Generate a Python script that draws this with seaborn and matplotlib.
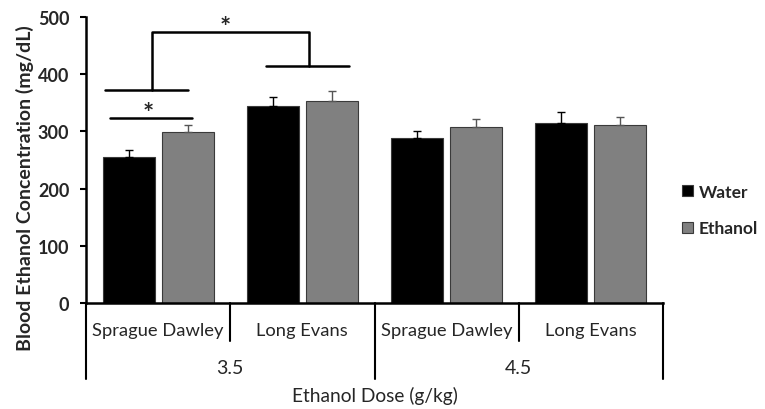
import numpy as np
import pandas as pd
import matplotlib
matplotlib.use("Agg")
import matplotlib.pyplot as plt
import matplotlib.transforms as mtransforms
from matplotlib.patches import Patch
import seaborn as sns

# ---- data ----
strains = ["Sprague Dawley", "Long Evans", "Sprague Dawley", "Long Evans"]
doses = ["3.5", "4.5"]
group_keys = ["SD 3.5", "LE 3.5", "SD 4.5", "LE 4.5"]
conditions = ["Water", "Ethanol"]
water_mean = [256, 344, 288, 315]
ethanol_mean = [299, 354, 307, 311]
water_sem = [12, 17, 13, 19]
ethanol_sem = [12, 16, 15, 15]
y_ticks = [0, 100, 200, 300, 400, 500]

sns.set_theme(style="white")
plt.rcParams["font.family"] = ["Lato", "DejaVu Sans"]

df = pd.DataFrame({
    "group": group_keys * 2,
    "condition": ["Water"] * 4 + ["Ethanol"] * 4,
    "value": water_mean + ethanol_mean,
})

fig = plt.figure(figsize=(7.65, 4.10), dpi=100)
ax = fig.add_axes([86 / 765, 1 - 304 / 410, (663 - 86) / 765, (304 - 18) / 410])

palette = {"Water": "#000000", "Ethanol": "#808080"}
sns.barplot(data=df, x="group", y="value", hue="condition", order=group_keys,
            hue_order=conditions, palette=palette, width=0.82, gap=0.12,
            errorbar=None, edgecolor="#3a3a3a", linewidth=0.8, ax=ax, legend=False)

# error bars (upper only) placed on the seaborn bar patches
bars = [p for p in ax.patches if p.get_height() > 0]
bars_sorted = sorted(bars, key=lambda p: p.get_x())
errs = []
for i in range(4):
    errs += [water_sem[i], ethanol_sem[i]]
ecolors = ["#000000", "#555555"] * 4
for p, e, c in zip(bars_sorted, errs, ecolors):
    xc = p.get_x() + p.get_width() / 2
    h = p.get_height()
    ax.errorbar([xc], [h], yerr=[[0], [e]], fmt="none", ecolor=c,
                elinewidth=1.0, capsize=3, capthick=1.0)

ax.set_xlim(-0.5, 3.5)
ax.set_ylim(0, 500)
ax.set_yticks(y_ticks)
ax.set_yticklabels([str(t) for t in y_ticks], fontsize=13, fontweight="bold")
ax.tick_params(axis="y", which="major", direction="out", length=4, width=1.5,
               color="black", left=True, pad=8)
ax.set_xticks([])
ax.set_xlabel("")
ax.set_ylabel("Blood Ethanol Concentration (mg/dL)", fontsize=14,
              fontweight="bold")
ax.yaxis.set_label_coords(-0.090, 0.406)
for s in ["top", "right"]:
    ax.spines[s].set_visible(False)
for s in ["left", "bottom"]:
    ax.spines[s].set_color("black")
    ax.spines[s].set_linewidth(1.8)

# hierarchical x axis
trans = mtransforms.blended_transform_factory(ax.transData, ax.transAxes)
for xb in [-0.5, 1.5, 3.5]:
    ax.plot([xb, xb], [0, -0.266], color="black", lw=1.5, transform=trans, clip_on=False)
for xb in [0.5, 2.5]:
    ax.plot([xb, xb], [0, -0.133], color="black", lw=1.5, transform=trans, clip_on=False)
for i, s in enumerate(strains):
    ax.text(i, -0.094, s, transform=trans, ha="center", va="center", fontsize=13.2)
for j, d in enumerate(doses):
    ax.text(0.5 + 2 * j, -0.227, d, transform=trans, ha="center", va="center", fontsize=14)
ax.text(1.5, -0.32, "Ethanol Dose (g/kg)", transform=trans, ha="center", va="center",
        fontsize=13.8)

# significance annotations
lk = dict(color="black", lw=1.8, clip_on=False)
ax.plot([-0.334, 0.238], [323, 323], **lk)
ax.text(-0.07, 333, "*", ha="center", va="center", fontsize=19, fontweight="bold")
ax.plot([-0.369, 0.21], [373, 373], **lk)
ax.plot([-0.045, -0.045, 1.045, 1.045], [373, 473, 473, 415], **lk)
ax.plot([0.748, 1.32], [415, 415], **lk)
ax.text(0.466, 482, "*", ha="center", va="center", fontsize=19, fontweight="bold")

# legend
handles = [Patch(facecolor=palette[c], edgecolor="#3a3a3a", linewidth=0.8, label=c)
           for c in conditions]
fig.legend(handles=handles, loc="center left", bbox_to_anchor=(682 / 765, 1 - 211 / 410),
           frameon=False, prop={"size": 12.5, "weight": "bold"}, handlelength=0.65,
           handleheight=0.65, handletextpad=0.3, labelspacing=1.2, borderpad=0,
           borderaxespad=0)

fig.savefig("out.png", dpi=100)
